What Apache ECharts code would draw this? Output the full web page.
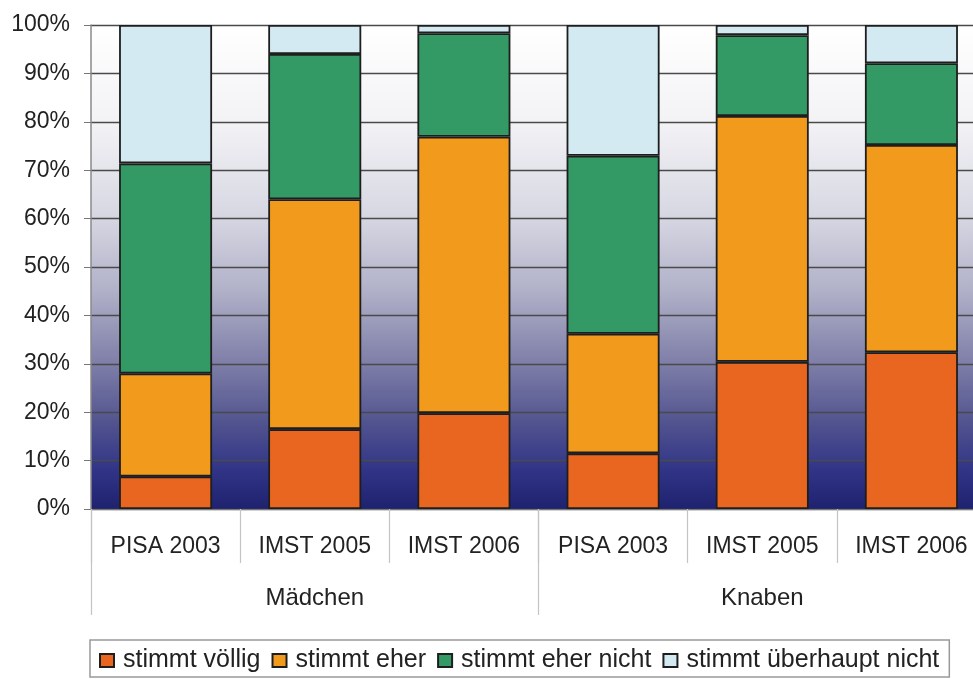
<!DOCTYPE html>
<html>
<head>
<meta charset="utf-8">
<script src="https://cdn.jsdelivr.net/npm/echarts@6/dist/echarts.min.js"></script>
<style>
  html, body { margin: 0; padding: 0; background: #ffffff; }
  #chart { width: 973px; height: 679px; }
</style>
</head>
<body>
<div id="chart"></div>
<script>
// Survey categories (inner level) and groups (outer level)
const categories = ['PISA 2003', 'IMST 2005', 'IMST 2006', 'PISA 2003', 'IMST 2005', 'IMST 2006'];
const groups = ['Mädchen', 'Knaben'];

// Share of answers in percent, one value per category
const stimmtVoellig       = [6.7, 16.5, 19.8, 11.5, 30.4, 32.4];
const stimmtEher          = [21.3, 47.5, 57.1, 24.7, 50.8, 42.8];
const stimmtEherNicht     = [43.4, 30.0, 21.4, 36.8, 16.7, 16.9];
const stimmtUeberhauptNicht = [28.6, 6.0, 1.7, 27.0, 2.1, 7.9];

const yTicks = [0, 10, 20, 30, 40, 50, 60, 70, 80, 90, 100];

const seriesDefs = [
  { name: 'stimmt völlig', data: stimmtVoellig, color: '#E8661F' },
  { name: 'stimmt eher', data: stimmtEher, color: '#F29A1C' },
  { name: 'stimmt eher nicht', data: stimmtEherNicht, color: '#339965' },
  { name: 'stimmt überhaupt nicht', data: stimmtUeberhauptNicht, color: '#D3EAF2' }
];

const FONT = '"Liberation Sans", Arial, sans-serif';
const chart = echarts.init(document.getElementById('chart'));

chart.setOption({
  animation: false,
  backgroundColor: '#ffffff',
  grid: {
    left: 91, right: -13, top: 25, bottom: 170,
    outerBoundsMode: 'none',
    show: true,
    borderWidth: 0,
    backgroundColor: new echarts.graphic.LinearGradient(0, 0, 0, 1, [
      { offset: 0.00, color: '#FFFFFF' },
      { offset: 0.20, color: '#F3F3F6' },
      { offset: 0.40, color: '#D6D6E2' },
      { offset: 0.55, color: '#B0B0C8' },
      { offset: 0.70, color: '#7E7EA8' },
      { offset: 0.82, color: '#52548F' },
      { offset: 0.92, color: '#313486' },
      { offset: 1.00, color: '#1E226E' }
    ])
  },
  legend: {
    left: 90,
    top: 640,
    padding: [8, 10, 4, 9],
    borderColor: '#999',
    borderWidth: 1.5,
    itemWidth: 14,
    itemHeight: 13,
    itemGap: 11,
    icon: 'rect',
    textStyle: { fontFamily: FONT, fontSize: 25, color: '#222', padding: [0, 0, 0, 4] },
    data: seriesDefs.map(s => s.name)
  },
  xAxis: [
    {
      type: 'category',
      data: categories,
      position: 'bottom',
      axisLine: { show: true, lineStyle: { color: '#777', width: 1 } },
      axisTick: { show: true, interval: 0, length: 54, lineStyle: { color: '#C4C4C4', width: 1.2 } },
      axisLabel: { interval: 0, margin: 26, fontFamily: FONT, fontSize: 23, color: '#222' }
    },
    {
      type: 'category',
      data: groups,
      position: 'bottom',
      axisLine: { show: false },
      axisTick: { show: true, interval: 0, length: 106, lineStyle: { color: '#C4C4C4', width: 1.2 } },
      axisLabel: { interval: 0, margin: 77, fontFamily: FONT, fontSize: 24, color: '#222' }
    }
  ],
  yAxis: {
    type: 'value',
    min: yTicks[0],
    max: yTicks[yTicks.length - 1],
    interval: 10,
    axisLine: { show: true, lineStyle: { color: '#8A8A8A', width: 1.5 } },
    axisTick: { show: true, length: 7, lineStyle: { color: '#777', width: 1 } },
    axisLabel: { margin: 21, fontFamily: FONT, fontSize: 23, color: '#222', formatter: v => v + '%' },
    splitLine: { show: true, lineStyle: { color: '#4A4A4A', width: 1.3 } }
  },
  series: seriesDefs.map(s => ({
    name: s.name,
    type: 'bar',
    stack: 'total',
    xAxisIndex: 0,
    barWidth: 93,
    data: s.data,
    itemStyle: { color: s.color, borderColor: '#1E1E1E', borderWidth: 1.8 }
  }))
});
</script>
</body>
</html>
